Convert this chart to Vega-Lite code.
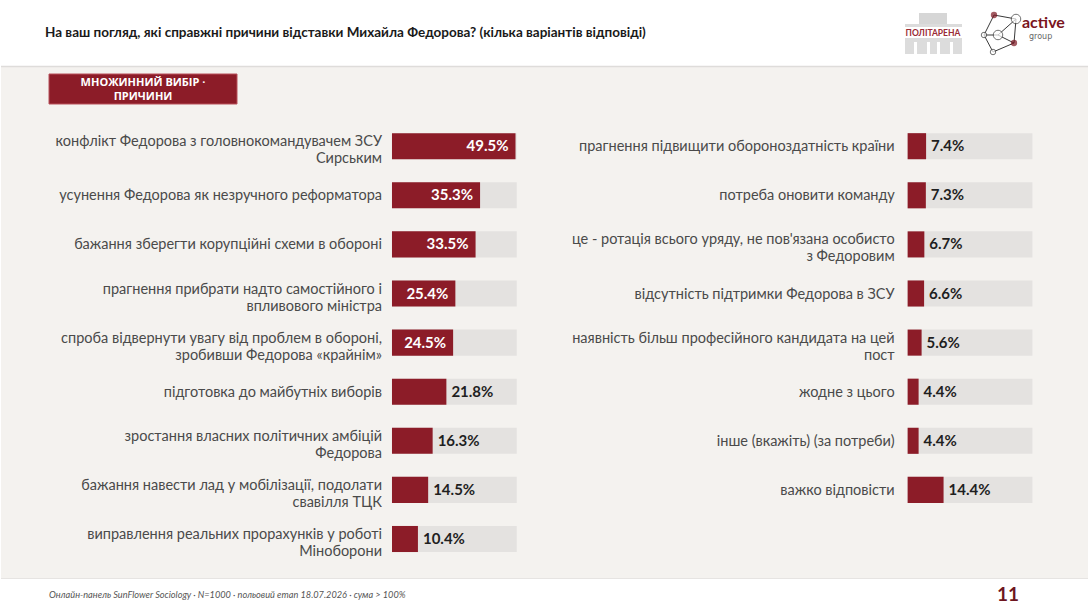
{
  "$schema": "https://vega.github.io/schema/vega-lite/v6.json",
  "width": 1088,
  "height": 612,
  "autosize": {"type": "fit", "contains": "padding"},
  "padding": 0,
  "background": "#ffffff",
  "config": {"view": {"stroke": null}, "font": "Lato"},
  "datasets": {
    "left": [
      {"label": "конфлікт Федорова з головнокомандувачем ЗСУ\nСирським", "v": 49.5},
      {"label": "усунення Федорова як незручного реформатора", "v": 35.3},
      {"label": "бажання зберегти корупційні схеми в обороні", "v": 33.5},
      {"label": "прагнення прибрати надто самостійного і\nвпливового міністра", "v": 25.4},
      {"label": "спроба відвернути увагу від проблем в обороні,\nзробивши Федорова «крайнім»", "v": 24.5},
      {"label": "підготовка до майбутніх виборів", "v": 21.8},
      {"label": "зростання власних політичних амбіцій\nФедорова", "v": 16.3},
      {"label": "бажання навести лад у мобілізації, подолати\nсвавілля ТЦК", "v": 14.5},
      {"label": "виправлення реальних прорахунків у роботі\nМіноборони", "v": 10.4}
    ],
    "right": [
      {"label": "прагнення підвищити обороноздатність країни", "v": 7.4},
      {"label": "потреба оновити команду", "v": 7.3},
      {"label": "це - ротація всього уряду, не пов'язана особисто\nз Федоровим", "v": 6.7},
      {"label": "відсутність підтримки Федорова в ЗСУ", "v": 6.6},
      {"label": "наявність більш професійного кандидата на цей\nпост", "v": 5.6},
      {"label": "жодне з цього", "v": 4.4},
      {"label": "інше (вкажіть) (за потреби)", "v": 4.4},
      {"label": "важко відповісти", "v": 14.4}
    ],
    "one": [{"k": 1}]
  },
  "resolve": {"scale": {"x": "independent", "y": "independent"}},
  "layer": [
    {
      "description": "beige body band between header and footer",
      "data": {"name": "one"},
      "mark": {"type": "rect", "color": "#f4f2ef"},
      "encoding": {"x": {"value": 0}, "x2": {"value": 1088}, "y": {"value": 67}, "y2": {"value": 578}}
    },
    {
      "data": {"name": "one"},
      "mark": {"type": "rule", "color": "#dedcda", "strokeWidth": 1.5},
      "encoding": {"x": {"value": 0}, "x2": {"value": 1088}, "y": {"value": 66.5}}
    },
    {
      "data": {"name": "one"},
      "mark": {"type": "rule", "color": "#e6e4e2", "strokeWidth": 1},
      "encoding": {"x": {"value": 0}, "x2": {"value": 1088}, "y": {"value": 578.5}}
    },
    {
      "description": "header question",
      "data": {"values": [{"t": "На ваш погляд, які справжні причини відставки Михайла Федорова? (кілька варіантів відповіді)"}]},
      "mark": {"type": "text", "align": "left", "baseline": "middle", "font": "Lato", "fontWeight": "bold", "fontSize": 13.5, "color": "#1a1a1a"},
      "encoding": {"text": {"field": "t"}, "x": {"value": 44}, "y": {"value": 33}}
    },
    {
      "description": "section badge",
      "data": {"name": "one"},
      "mark": {"type": "rect", "color": "#8c1c28", "stroke": "#b8505a", "strokeWidth": 1},
      "encoding": {"x": {"value": 48}, "x2": {"value": 236}, "y": {"value": 74}, "y2": {"value": 104}}
    },
    {
      "data": {"values": [{"t": "МНОЖИННИЙ ВИБІР ·\nПРИЧИНИ"}]},
      "mark": {"type": "text", "lineBreak": "\n", "align": "center", "baseline": "middle", "lineHeight": 14, "font": "Open Sans", "fontWeight": "bold", "fontSize": 11, "color": "#ffffff"},
      "encoding": {"text": {"field": "t"}, "x": {"value": 142}, "y": {"value": 83}}
    },
    {
      "description": "footer source note",
      "data": {"values": [{"t": "Онлайн-панель SunFlower Sociology · N=1000 · польовий етап 18.07.2026 · сума > 100%"}]},
      "mark": {"type": "text", "align": "left", "baseline": "middle", "font": "Lato", "fontStyle": "italic", "fontSize": 9.2, "color": "#555555"},
      "encoding": {"text": {"field": "t"}, "x": {"value": 48}, "y": {"value": 595}}
    },
    {
      "data": {"values": [{"t": "11"}]},
      "mark": {"type": "text", "align": "center", "baseline": "middle", "font": "Lato", "fontWeight": "bold", "fontSize": 19, "color": "#6e1620"},
      "encoding": {"text": {"field": "t"}, "x": {"value": 1007}, "y": {"value": 595}}
    },
    {
      "description": "Політарена logo: building silhouette and wordmark",
      "data": {"name": "one"},
      "mark": {"type": "rect", "color": "#d6d6d6"},
      "encoding": {"x": {"value": 918}, "x2": {"value": 946}, "y": {"value": 13}, "y2": {"value": 24}}
    },
    {
      "data": {"name": "one"},
      "mark": {"type": "rect", "color": "#dcdcdc"},
      "encoding": {"x": {"value": 904}, "x2": {"value": 961}, "y": {"value": 24}, "y2": {"value": 54}}
    },
    {
      "data": {"name": "one"},
      "mark": {"type": "rect", "color": "#ffffff"},
      "encoding": {"x": {"value": 902}, "x2": {"value": 963}, "y": {"value": 27}, "y2": {"value": 38}}
    },
    {
      "data": {"name": "one"},
      "mark": {"type": "rect", "color": "#ffffff"},
      "encoding": {"x": {"value": 913}, "x2": {"value": 916}, "y": {"value": 42}, "y2": {"value": 54}}
    },
    {
      "data": {"name": "one"},
      "mark": {"type": "rect", "color": "#ffffff"},
      "encoding": {"x": {"value": 926}, "x2": {"value": 929}, "y": {"value": 42}, "y2": {"value": 54}}
    },
    {
      "data": {"name": "one"},
      "mark": {"type": "rect", "color": "#ffffff"},
      "encoding": {"x": {"value": 936}, "x2": {"value": 939}, "y": {"value": 42}, "y2": {"value": 54}}
    },
    {
      "data": {"name": "one"},
      "mark": {"type": "rect", "color": "#ffffff"},
      "encoding": {"x": {"value": 949}, "x2": {"value": 952}, "y": {"value": 42}, "y2": {"value": 54}}
    },
    {
      "data": {"values": [{"t": "ПОЛІТАРЕНА"}]},
      "mark": {"type": "text", "align": "center", "baseline": "middle", "font": "Lato", "fontWeight": "bold", "fontSize": 8.5, "color": "#9a2a34"},
      "encoding": {"text": {"field": "t"}, "x": {"value": 932}, "y": {"value": 32.5}}
    },
    {
      "description": "active group logo: network of nodes",
      "data": {"name": "one"},
      "mark": {"type": "rule", "color": "#3a3a3a", "strokeWidth": 1},
      "encoding": {"x": {"value": 993}, "y": {"value": 15}, "x2": {"value": 1015}, "y2": {"value": 19}}
    },
    {
      "data": {"name": "one"},
      "mark": {"type": "rule", "color": "#3a3a3a", "strokeWidth": 1},
      "encoding": {"x": {"value": 993}, "y": {"value": 15}, "x2": {"value": 983}, "y2": {"value": 35}}
    },
    {
      "data": {"name": "one"},
      "mark": {"type": "rule", "color": "#3a3a3a", "strokeWidth": 1},
      "encoding": {"x": {"value": 1015}, "y": {"value": 19}, "x2": {"value": 997}, "y2": {"value": 35}}
    },
    {
      "data": {"name": "one"},
      "mark": {"type": "rule", "color": "#3a3a3a", "strokeWidth": 1},
      "encoding": {"x": {"value": 1015}, "y": {"value": 19}, "x2": {"value": 1013}, "y2": {"value": 43}}
    },
    {
      "data": {"name": "one"},
      "mark": {"type": "rule", "color": "#3a3a3a", "strokeWidth": 1},
      "encoding": {"x": {"value": 983}, "y": {"value": 35}, "x2": {"value": 997}, "y2": {"value": 35}}
    },
    {
      "data": {"name": "one"},
      "mark": {"type": "rule", "color": "#3a3a3a", "strokeWidth": 1},
      "encoding": {"x": {"value": 997}, "y": {"value": 35}, "x2": {"value": 1013}, "y2": {"value": 43}}
    },
    {
      "data": {"name": "one"},
      "mark": {"type": "rule", "color": "#3a3a3a", "strokeWidth": 1},
      "encoding": {"x": {"value": 983}, "y": {"value": 35}, "x2": {"value": 992}, "y2": {"value": 52}}
    },
    {
      "data": {"name": "one"},
      "mark": {"type": "rule", "color": "#3a3a3a", "strokeWidth": 1},
      "encoding": {"x": {"value": 992}, "y": {"value": 52}, "x2": {"value": 1013}, "y2": {"value": 43}}
    },
    {
      "data": {"name": "one"},
      "mark": {"type": "point", "filled": true, "color": "#7a1420", "size": 40},
      "encoding": {"x": {"value": 993}, "y": {"value": 15}}
    },
    {
      "data": {"name": "one"},
      "mark": {"type": "point", "filled": true, "color": "#7a1420", "size": 40},
      "encoding": {"x": {"value": 1013}, "y": {"value": 43}}
    },
    {
      "data": {"name": "one"},
      "mark": {"type": "point", "filled": true, "fill": "#ffffff", "stroke": "#3a3a3a", "strokeWidth": 1, "size": 90},
      "encoding": {"x": {"value": 1015}, "y": {"value": 19}}
    },
    {
      "data": {"name": "one"},
      "mark": {"type": "point", "filled": true, "fill": "#ffffff", "stroke": "#3a3a3a", "strokeWidth": 1, "size": 90},
      "encoding": {"x": {"value": 997}, "y": {"value": 35}}
    },
    {
      "data": {"name": "one"},
      "mark": {"type": "point", "filled": true, "fill": "#ffffff", "stroke": "#3a3a3a", "strokeWidth": 1, "size": 30},
      "encoding": {"x": {"value": 983}, "y": {"value": 35}}
    },
    {
      "data": {"name": "one"},
      "mark": {"type": "point", "filled": true, "fill": "#ffffff", "stroke": "#3a3a3a", "strokeWidth": 1, "size": 30},
      "encoding": {"x": {"value": 992}, "y": {"value": 52}}
    },
    {
      "data": {"values": [{"t": "active"}]},
      "mark": {"type": "text", "align": "left", "baseline": "middle", "font": "Lato", "fontWeight": "bold", "fontSize": 16, "color": "#7a1420"},
      "encoding": {"text": {"field": "t"}, "x": {"value": 1021}, "y": {"value": 23}}
    },
    {
      "data": {"values": [{"t": "group"}]},
      "mark": {"type": "text", "align": "left", "baseline": "middle", "font": "DejaVu Sans", "fontSize": 8, "color": "#666666"},
      "encoding": {"text": {"field": "t"}, "x": {"value": 1028}, "y": {"value": 37}}
    },
    {
      "description": "left column of reasons",
      "data": {"name": "left"},
      "transform": [{"calculate": "format(datum.v, '.1f') + '%'", "as": "pct"}],
      "encoding": {
        "y": {
          "field": "label", "type": "nominal", "sort": null, "axis": null,
          "scale": {"range": [121.65, 563.55], "paddingInner": 0.469, "paddingOuter": 0.2345}
        }
      },
      "layer": [
        {
          "mark": {"type": "bar", "color": "#e4e2e0"},
          "encoding": {
            "x": {"datum": 0, "type": "quantitative", "axis": null, "scale": {"domain": [-156.68, 278.52], "nice": false, "zero": false}},
            "x2": {"datum": 50}
          }
        },
        {
          "mark": {"type": "bar", "color": "#8c1c28"},
          "encoding": {
            "x": {"field": "v", "type": "quantitative", "axis": null, "scale": {"domain": [-156.68, 278.52], "nice": false, "zero": false}},
            "x2": {"datum": 0}
          }
        },
        {
          "transform": [{"filter": "indexof(datum.label, '\\n') < 0"}],
          "mark": {"type": "text", "align": "right", "baseline": "middle", "dx": -10, "dy": 1, "font": "Lato", "fontSize": 14.5, "color": "#4a4a4a"},
          "encoding": {
            "x": {"datum": 0, "type": "quantitative"},
            "text": {"field": "label"}
          }
        },
        {
          "transform": [{"filter": "indexof(datum.label, '\\n') >= 0"}],
          "mark": {"type": "text", "lineBreak": "\n", "align": "right", "baseline": "middle", "dx": -10, "dy": -4, "lineHeight": 17, "font": "Lato", "fontSize": 14.5, "color": "#4a4a4a"},
          "encoding": {
            "x": {"datum": 0, "type": "quantitative"},
            "text": {"field": "label"}
          }
        },
        {
          "transform": [{"filter": "datum.v >= 24"}],
          "mark": {"type": "text", "align": "right", "baseline": "middle", "dx": -7, "font": "Lato", "fontWeight": "bold", "fontSize": 15, "color": "#ffffff"},
          "encoding": {
            "x": {"field": "v", "type": "quantitative"},
            "text": {"field": "pct"}
          }
        },
        {
          "transform": [{"filter": "datum.v < 24"}],
          "mark": {"type": "text", "align": "left", "baseline": "middle", "dx": 5, "font": "Lato", "fontWeight": "bold", "fontSize": 15, "color": "#1f1f1f"},
          "encoding": {
            "x": {"field": "v", "type": "quantitative"},
            "text": {"field": "pct"}
          }
        }
      ]
    },
    {
      "description": "right column of reasons",
      "data": {"name": "right"},
      "transform": [{"calculate": "format(datum.v, '.1f') + '%'", "as": "pct"}],
      "encoding": {
        "y": {
          "field": "label", "type": "nominal", "sort": null, "axis": null,
          "scale": {"range": [121.65, 514.45], "paddingInner": 0.469, "paddingOuter": 0.2345}
        }
      },
      "layer": [
        {
          "mark": {"type": "bar", "color": "#e4e2e0"},
          "encoding": {
            "x": {"datum": 0, "type": "quantitative", "axis": null, "scale": {"domain": [-363.32, 71.88], "nice": false, "zero": false}},
            "x2": {"datum": 50}
          }
        },
        {
          "mark": {"type": "bar", "color": "#8c1c28"},
          "encoding": {
            "x": {"field": "v", "type": "quantitative", "axis": null, "scale": {"domain": [-363.32, 71.88], "nice": false, "zero": false}},
            "x2": {"datum": 0}
          }
        },
        {
          "transform": [{"filter": "indexof(datum.label, '\\n') < 0"}],
          "mark": {"type": "text", "align": "right", "baseline": "middle", "dx": -13, "dy": 1, "font": "Lato", "fontSize": 14.5, "color": "#4a4a4a"},
          "encoding": {
            "x": {"datum": 0, "type": "quantitative"},
            "text": {"field": "label"}
          }
        },
        {
          "transform": [{"filter": "indexof(datum.label, '\\n') >= 0"}],
          "mark": {"type": "text", "lineBreak": "\n", "align": "right", "baseline": "middle", "dx": -13, "dy": -4, "lineHeight": 17, "font": "Lato", "fontSize": 14.5, "color": "#4a4a4a"},
          "encoding": {
            "x": {"datum": 0, "type": "quantitative"},
            "text": {"field": "label"}
          }
        },
        {
          "mark": {"type": "text", "align": "left", "baseline": "middle", "dx": 5, "font": "Lato", "fontWeight": "bold", "fontSize": 15, "color": "#1f1f1f"},
          "encoding": {
            "x": {"field": "v", "type": "quantitative"},
            "text": {"field": "pct"}
          }
        }
      ]
    }
  ]
}
